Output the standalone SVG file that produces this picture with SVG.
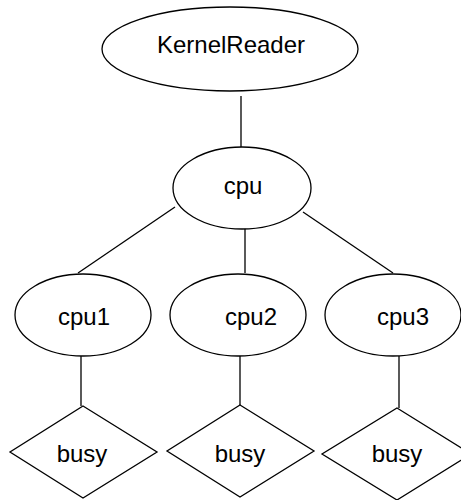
<svg xmlns="http://www.w3.org/2000/svg" width="461" height="500" viewBox="0 0 461 500">
<style>
.s{fill:#fff;stroke:#000;stroke-width:1.3}
.l{stroke:#000;stroke-width:1.3;fill:none}
text{font-family:"Liberation Sans",Arial,sans-serif;font-size:24px;fill:#000;text-anchor:middle}
</style>
<rect width="461" height="500" fill="#fff"/>
<g id="connectors">
<line class="l" x1="241" y1="96" x2="241" y2="147"/>
<line class="l" x1="175" y1="207" x2="78" y2="273"/>
<line class="l" x1="245" y1="228" x2="245" y2="273"/>
<line class="l" x1="303" y1="212" x2="393" y2="273"/>
<line class="l" x1="81" y1="356" x2="81" y2="406"/>
<line class="l" x1="240" y1="356" x2="240" y2="405"/>
<line class="l" x1="399" y1="356" x2="399" y2="408"/>
</g>
<g id="KernelReader">
<ellipse class="s" cx="230" cy="49" rx="128" ry="42"/>
<text x="231" y="53">KernelReader</text>
</g>
<g id="cpu">
<ellipse class="s" cx="242" cy="188" rx="69" ry="41"/>
<text x="243" y="194">cpu</text>
</g>
<g id="cpu1">
<ellipse class="s" cx="83" cy="315" rx="68" ry="41"/>
<text x="84" y="325">cpu1</text>
</g>
<g id="cpu2">
<ellipse class="s" cx="238" cy="315" rx="68" ry="41"/>
<text x="251" y="325">cpu2</text>
</g>
<g id="cpu3">
<ellipse class="s" cx="393" cy="315" rx="68" ry="41"/>
<text x="403" y="325">cpu3</text>
</g>
<g id="busy1">
<polygon class="s" points="83,406 157,452 83,498 10,452"/>
<text x="82" y="462">busy</text>
</g>
<g id="busy2">
<polygon class="s" points="240,405 314,451 240,497 167,451"/>
<text x="240" y="462">busy</text>
</g>
<g id="busy3">
<polygon class="s" points="397,408 471,454 397,500 322,454"/>
<text x="397" y="462">busy</text>
</g>
</svg>
